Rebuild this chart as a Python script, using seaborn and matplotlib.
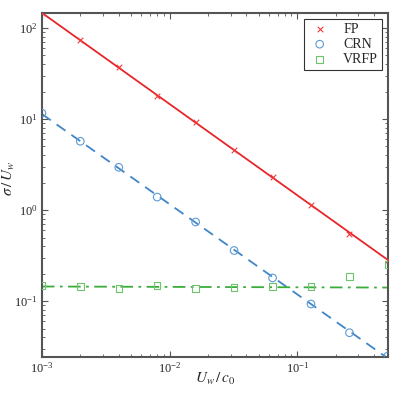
import matplotlib
matplotlib.use('Agg')
import matplotlib.pyplot as plt
import seaborn as sns
import numpy as np
import pandas as pd

# data
uw_c0 = [0.001, 0.002, 0.004, 0.008, 0.016, 0.032, 0.064, 0.128, 0.256, 0.512]
sigma_fp = [146, 73, 37, 18, 9.2, 4.6, 2.3, 1.15, 0.55, 0.285]
sigma_crn = [11.6, 5.7, 2.95, 1.39, 0.74, 0.36, 0.18, 0.093, 0.045, 0.025]
sigma_vrfp = [0.149, 0.144, 0.138, 0.149, 0.138, 0.141, 0.144, 0.144, 0.187, 0.253]
labels = ['FP', 'CRN', 'VRFP']

sns.set_style("ticks")
plt.rcParams['font.family'] = ['Liberation Serif', 'DejaVu Serif']
plt.rcParams['mathtext.fontset'] = 'stix'
plt.rcParams['font.size'] = 9

df = pd.DataFrame({'x': uw_c0 * 3,
                   'y': sigma_fp + sigma_crn + sigma_vrfp,
                   'method': [m for m in labels for _ in uw_c0]})

colors = {'FP': '#f03c3c', 'CRN': '#5b9bd5', 'VRFP': '#6cc46c'}
line_colors = {'FP': '#e8262a', 'CRN': '#3f86c8', 'VRFP': '#3cad3c'}
markers = {'FP': 'x', 'CRN': 'o', 'VRFP': 's'}
styles = {'FP': '-', 'CRN': (0, (6, 4)), 'VRFP': (0, (7, 3, 1.5, 3))}
nfit = {'FP': 10, 'CRN': 10, 'VRFP': 8}

fig = plt.figure(figsize=(3.95, 3.95), dpi=100)
ax = fig.add_axes([0.106, 0.096, 0.876, 0.871])

x = np.array(uw_c0)
for m in labels:
    sub = df[df['method'] == m]
    n = nfit[m]
    p = np.polyfit(np.log(sub['x'][:n]), np.log(sub['y'][:n]), 1)
    xf = np.array([x.min(), x.max()])
    ax.plot(xf, np.exp(np.polyval(p, np.log(xf))), color=line_colors[m],
            linestyle=styles[m], linewidth=1.3, zorder=2)

for m in labels:
    sub = df[df['method'] == m]
    if markers[m] == 'x':
        sns.scatterplot(data=sub, x='x', y='y', ax=ax, marker='x', s=16,
                        color=colors[m], linewidth=0.8, label=m, zorder=3)
    else:
        sns.scatterplot(data=sub, x='x', y='y', ax=ax, marker=markers[m],
                        s=30 if m == 'CRN' else 22, facecolor='none',
                        edgecolor=colors[m], linewidth=0.8, label=m, zorder=3)

ax.set_xscale('log')
ax.set_yscale('log')
ax.set_xlim(0.001, 0.512)
ax.set_ylim(0.0243, 146)
ax.set_xlabel(r'$U_w\,/\,c_0$', fontsize=11)
ax.set_ylabel(r'$\sigma\,/\,U_w$', fontsize=11)
ax.xaxis.set_label_coords(0.5, -0.04)
ax.yaxis.set_label_coords(-0.072, 0.52)

for s in ax.spines.values():
    s.set_color('#555555')
    s.set_linewidth(1.5)
ax.tick_params(which='both', direction='in', top=True, right=True,
               color='#555555', labelsize=9, pad=3)
ax.tick_params(which='major', length=4, width=0.8)
ax.tick_params(which='minor', length=2, width=0.6)

leg = ax.legend(loc='upper right', frameon=True, fancybox=False, fontsize=10,
                borderpad=0.3, handletextpad=0.9, labelspacing=0.15,
                borderaxespad=0.4, handlelength=1.6)
leg.get_frame().set_edgecolor('black')
leg.get_frame().set_linewidth(0.8)

fig.savefig('out.png', dpi=100)
plt.close(fig)
